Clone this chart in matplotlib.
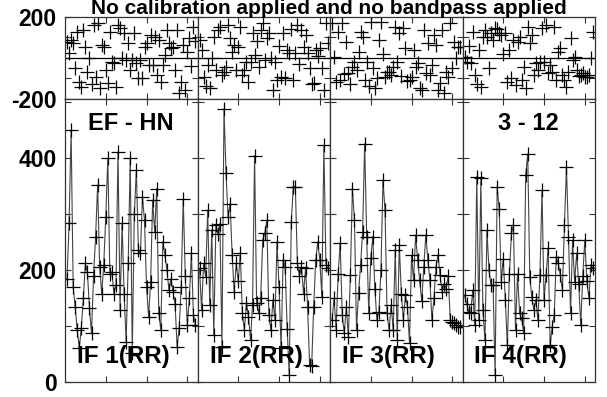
import numpy as np
import matplotlib.pyplot as plt

plt.rcParams['font.family'] = ['Liberation Sans', 'DejaVu Sans']
plt.rcParams['font.weight'] = 'bold'

title = "No calibration applied and no bandpass applied"
baseline = "EF - HN"
timerange = "3 - 12"
if_labels = ["IF 1(RR)", "IF 2(RR)", "IF 3(RR)", "IF 4(RR)"]

# amplitude per channel, one list per IF
amp_if1 = [185, 284, 450, 170, 134, 93, 61, 96, 150, 212, 196, 132, 87, 190, 259, 352,
           206, 158, 210, 295, 400, 194, 197, 158, 173, 411, 129, 284, 158, 72, 212, 400,
           52, 301, 379, 236, 230, 331, 289, 170, 117, 179, 325, 269, 346, 123, 93, 251,
           227, 200, 164, 185, 161, 140, 63, 96, 170, 328, 190, 102, 150, 230, 120, 102]
amp_if2 = [203, 129, 212, 188, 307, 138, 272, 84, 280, 265, 283, 63, 489, 373, 295, 319,
           227, 161, 212, 180, 230, 123, 93, 141, 117, 75, 138, 405, 141, 123, 150, 254,
           266, 289, 120, 93, 147, 111, 251, 170, 60, 218, 206, 95, 13, 286, 349, 349,
           212, 190, 206, 158, 203, 135, 30, 28, 135, 218, 251, 218, 152, 423, 210, 203]
amp_if3 = [111, 150, 93, 194, 248, 120, 87, 135, 81, 191, 346, 289, 93, 160, 209, 269,
           426, 260, 123, 221, 260, 167, 111, 126, 200, 361, 307, 123, 93, 138, 93, 236,
           75, 245, 158, 111, 155, 135, 69, 227, 182, 263, 218, 182, 144, 206, 263, 218,
           182, 111, 150, 206, 227, 191, 161, 176, 167, 190, 111, 108, 105, 102, 99, 98]
amp_if4 = [155, 140, 126, 123, 164, 102, 367, 111, 364, 129, 75, 271, 200, 173, 173, 13,
           349, 310, 179, 220, 147, 66, 194, 266, 280, 93, 194, 123, 114, 87, 370, 408,
           188, 152, 129, 147, 111, 191, 343, 147, 191, 239, 66, 99, 120, 224, 212, 191,
           165, 280, 385, 260, 123, 254, 179, 230, 176, 102, 190, 254, 180, 150, 210, 203]

# phase (degrees) per channel
ph_if1 = [79, 22, 87, 71, -52, 128, -117, -142, 136, 54, -68, -3, -130, 160, -93, 169,
          -150, 62, 54, -60, -125, 128, -19, -27, -142, 160, 144, -3, 120, -11, 71, -60,
          -11, 120, -27, -100, -11, -101, 54, 71, -36, 111, -36, 103, -85, 87, -120, -36,
          13, 136, 71, 46, 54, -60, 136, -175, -117, 62, -160, 30, 95, -40, 150, 80]
ph_if2 = [87, 38, -93, -140, -36, -150, -3, 100, -60, 136, 152, -85, -70, -44, 160, 95,
          30, 62, -60, 54, 150, -85, -60, -19, -120, -19, 120, 13, 80, -44, 136, 169,
          -10, 95, 120, -3, -160, -19, -109, 60, -93, 120, -100, 38, 22, 140, -109, 22,
          160, -30, 136, 54, 110, 22, -52, -130, -126, 38, 10, 46, -52, -158, 170, 71]
ph_if3 = [169, 5, -120, 128, -109, 169, -80, 79, -76, -130, -44, -19, -60, 30, 128, 100,
          -109, -19, -140, 177, -52, -150, -100, 87, 177, 20, -93, -68, -70, -85, -44, 150,
          -19, 120, -90, 144, 46, -115, -109, -93, 40, -44, -27, -150, -158, 136, -75, 71,
          -85, -36, 110, 62, -158, -125, 136, -175, -68, -95, 169, -52, 79, -3, 54, 54]
ph_if4 = [5, -19, 60, -27, 128, -85, -130, 38, -142, 100, 136, 103, -50, 120, 87, 144,
          140, 120, 111, 20, 120, -117, 38, -100, 87, -134, 75, 103, -109, -44, -150, 152,
          71, 110, -85, -27, -60, -20, 144, -19, 160, -76, -36, -70, 152, -109, 30, 46,
          -85, -110, -142, -68, 95, -11, 5, -60, -90, -85, -76, -93, -93, -85, -3, 128]

amps = [amp_if1, amp_if2, amp_if3, amp_if4]
phases = [ph_if1, ph_if2, ph_if3, ph_if4]

W, H = 607, 397
fig = plt.figure(figsize=(W / 100, H / 100), dpi=100)

# plot box in pixels
x0, x1 = 65, 595
y_top, y_mid, y_bot = 17, 98.5, 382
pw = (x1 - x0) / 4

fs = 16.5
for i in range(4):
    left = (x0 + i * pw) / W
    ax_p = fig.add_axes([left, 1 - y_mid / H, pw / W, (y_mid - y_top) / H])
    ax_a = fig.add_axes([left, 1 - y_bot / H, pw / W, (y_bot - y_mid) / H])

    chan = np.arange(1, len(amps[i]) + 1)

    ax_p.plot(chan, phases[i], ls='none', marker='+', ms=10, mew=0.9, color='black')
    ax_p.axhline(0, color='black', lw=0.9)
    ax_p.set_ylim(-200, 200)
    ax_p.set_yticks([-200, -100, 0, 100, 200])

    ax_a.plot(chan, amps[i], color='#444444', lw=0.8, marker='+', ms=10, mew=0.9,
              mec='black')
    ax_a.set_ylim(0, 507)
    ax_a.set_yticks([0, 100, 200, 300, 400, 500])

    for ax in (ax_p, ax_a):
        ax.set_xlim(0, 65)
        ax.set_xticks([20, 40, 60])
        ax.set_xticklabels([])
        ax.tick_params(direction='in', length=4, width=0.8, top=True, right=True,
                       labelsize=fs, pad=6, color='#333333')
        for s in ax.spines.values():
            s.set_linewidth(0.9)
            s.set_color('#333333')

    if i == 0:
        ax_p.set_yticklabels(['-200', '', '', '', '200'], fontweight='bold')
        ax_a.set_yticklabels(['0', '', '200', '', '400', ''], fontweight='bold')
    else:
        ax_p.set_yticklabels([])
        ax_a.set_yticklabels([])

    fig.text((x0 + i * pw + 12) / W, 1 - 357 / H, if_labels[i], fontsize=17.5,
             fontweight='bold', ha='left', va='center')

fig.text((x0 + 0.5 * pw) / W, 1 - 124 / H, baseline, fontsize=17,
         fontweight='bold', ha='center', va='center')
fig.text((x0 + 3.5 * pw) / W, 1 - 124 / H, timerange, fontsize=17,
         fontweight='bold', ha='center', va='center')
fig.text(329 / W, 1 - 14 / H, title, fontsize=15, fontweight='bold',
         ha='center', va='baseline')

fig.savefig('out.png', dpi=100)
